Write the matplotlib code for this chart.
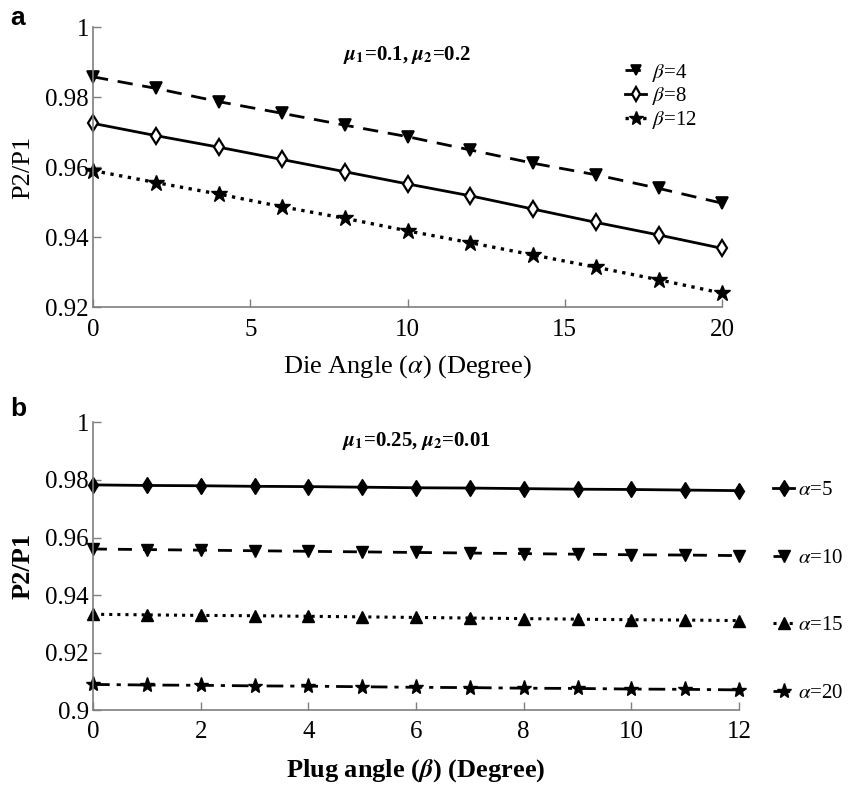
import matplotlib
matplotlib.use("Agg")
import matplotlib.pyplot as plt

plt.rcParams["font.family"] = ["Liberation Serif", "DejaVu Serif"]
plt.rcParams["mathtext.fontset"] = "stix"

# panel a: P2/P1 against die angle for three plug angles
die_angle = [0, 2, 4, 6, 8, 10, 12, 14, 16, 18, 20]
ratio_beta4 = [0.9859, 0.9826, 0.9788, 0.9755, 0.9721, 0.9688, 0.9650, 0.9612, 0.9579, 0.9540, 0.9498]
ratio_beta8 = [0.9726, 0.9691, 0.9658, 0.9623, 0.9588, 0.9553, 0.9519, 0.9481, 0.9443, 0.9407, 0.9369]
ratio_beta12 = [0.9591, 0.9557, 0.9524, 0.9488, 0.9455, 0.9419, 0.9385, 0.9350, 0.9315, 0.9279, 0.9241]

# panel b: P2/P1 against plug angle for four die angles
plug_angle = [0, 1, 2, 3, 4, 5, 6, 7, 8, 9, 10, 11, 12]
ratio_alpha5 = [0.9783, 0.9781, 0.9780, 0.9778, 0.9777, 0.9775, 0.9773, 0.9772, 0.9770, 0.9768, 0.9767, 0.9765, 0.9763]
ratio_alpha10 = [0.9560, 0.9558, 0.9556, 0.9554, 0.9552, 0.9550, 0.9548, 0.9546, 0.9544, 0.9542, 0.9540, 0.9539, 0.9537]
ratio_alpha15 = [0.9333, 0.9331, 0.9329, 0.9328, 0.9326, 0.9324, 0.9322, 0.9320, 0.9318, 0.9316, 0.9314, 0.9313, 0.9311]
ratio_alpha20 = [0.9089, 0.9087, 0.9086, 0.9084, 0.9083, 0.9081, 0.9079, 0.9078, 0.9076, 0.9075, 0.9073, 0.9072, 0.9070]

AXIS_GRAY = "#7f7f7f"


def style_axis(ax):
    for side in ("top", "right"):
        ax.spines[side].set_visible(False)
    for side in ("left", "bottom"):
        ax.spines[side].set_color(AXIS_GRAY)
        ax.spines[side].set_linewidth(1.2)
    ax.tick_params(direction="in", length=6, width=1.0, color=AXIS_GRAY,
                   labelsize=18)
    ax.tick_params(axis="x", pad=8)
    ax.tick_params(axis="y", pad=3)


fig = plt.figure(figsize=(8.59, 7.85), dpi=100)
ax_a = fig.add_axes([0.1083, 0.6083, 0.7322, 0.3567])
ax_b = fig.add_axes([0.1083, 0.0955, 0.7520, 0.3663])

# ---- panel a ----
ax_a.plot(die_angle, ratio_beta4, "k--", lw=2.0, dashes=(5.5, 3.5), marker="v",
          ms=8, mfc="black", mec="black", mew=1.2, label=r"$\beta$=4", clip_on=False)
ax_a.plot(die_angle, ratio_beta8, "k-", lw=2.0, marker="d", ms=8, mfc="white",
          mec="black", mew=1.6, label=r"$\beta$=8", clip_on=False)
ax_a.plot(die_angle, ratio_beta12, "k:", lw=2.4, marker="*", ms=12, mfc="black",
          mec="black", label=r"$\beta$=12", clip_on=False)
ax_a.set_xlim(0, 20)
ax_a.set_ylim(0.92, 1.0)
ax_a.set_xticks([0, 5, 10, 15, 20])
ax_a.set_yticks([0.92, 0.94, 0.96, 0.98, 1.0])
ax_a.set_yticklabels(["0.92", "0.94", "0.96", "0.98", "1"])
style_axis(ax_a)
ax_a.set_xlabel(r"Die Angle ($\alpha$) (Degree)", fontsize=19, labelpad=9)
ax_a.set_ylabel("P2/P1", fontsize=19, labelpad=8)
ax_a.text(0.5, 0.90, r"$\boldsymbol{\mu}_\mathbf{1}$=0.1, $\boldsymbol{\mu}_\mathbf{2}$=0.2",
          transform=ax_a.transAxes, ha="center", va="center", fontsize=15,
          fontweight="bold")
ax_a.legend(loc="upper left", bbox_to_anchor=(0.846, 0.878), frameon=False,
            fontsize=15, handlelength=1.0, handletextpad=0.3, labelspacing=0.08,
            borderpad=0, borderaxespad=0, markerscale=0.9)

# ---- panel b ----
ax_b.plot(plug_angle, ratio_alpha5, "k-", lw=2.0, marker="d", ms=8,
          mfc="black", mec="black", label=r"$\alpha$=5", clip_on=False)
ax_b.plot(plug_angle, ratio_alpha10, "k--", lw=2.0, dashes=(5, 4),
          marker="v", ms=8, mfc="black", mec="black",
          label=r"$\alpha$=10", clip_on=False)
ax_b.plot(plug_angle, ratio_alpha15, "k:", lw=2.2, marker="^", ms=8,
          mfc="black", mec="black", label=r"$\alpha$=15", clip_on=False)
ax_b.plot(plug_angle, ratio_alpha20, "k-.", lw=2.0, dashes=(6, 2.5, 1.5, 2.5),
          marker="*", ms=11, mfc="black", mec="black",
          label=r"$\alpha$=20", clip_on=False)
ax_b.set_xlim(0, 12)
ax_b.set_ylim(0.9, 1.0)
ax_b.set_xticks([0, 2, 4, 6, 8, 10, 12])
ax_b.set_yticks([0.9, 0.92, 0.94, 0.96, 0.98, 1.0])
ax_b.set_yticklabels(["0.9", "0.92", "0.94", "0.96", "0.98", "1"])
style_axis(ax_b)
ax_b.set_xlabel(r"Plug angle ($\boldsymbol{\beta}$) (Degree)", fontsize=19,
                fontweight="bold", labelpad=10)
ax_b.set_ylabel("P2/P1", fontsize=19, fontweight="bold", labelpad=8)
ax_b.text(0.5, 0.934, r"$\boldsymbol{\mu}_\mathbf{1}$=0.25, $\boldsymbol{\mu}_\mathbf{2}$=0.01",
          transform=ax_b.transAxes, ha="center", va="center", fontsize=15,
          fontweight="bold")
ax_b.legend(loc="upper left", bbox_to_anchor=(1.053, 0.797), frameon=False,
            fontsize=15, handlelength=1.0, handletextpad=0.2, labelspacing=2.3,
            borderpad=0, borderaxespad=0, markerscale=1.0)

# panel tags
fig.text(0.012, 0.977, "a", fontsize=19, fontweight="bold",
         family="Liberation Sans", ha="left", va="center")
fig.text(0.012, 0.479, "b", fontsize=19, fontweight="bold",
         family="Liberation Sans", ha="left", va="center")

fig.savefig("out.png", dpi=100)
